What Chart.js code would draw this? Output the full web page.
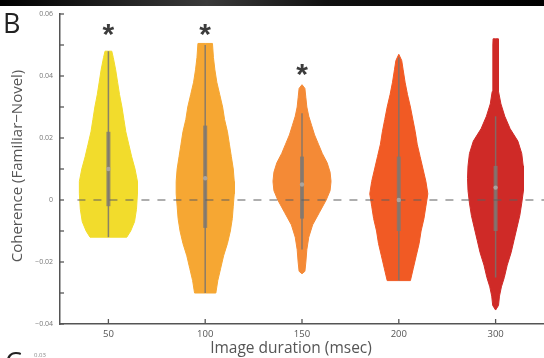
<!DOCTYPE html>
<html>
<head>
<meta charset="utf-8">
<script src="https://cdn.jsdelivr.net/npm/chart.js@4.4.1/dist/chart.umd.min.js"></script>
<style>
  body { margin: 0; background: #fff; overflow: hidden; }
  #wrap { width: 548px; height: 358px; position: relative; }
</style>
</head>
<body>
<div id="wrap"><canvas id="violins"></canvas></div>
<script>
// categories (image duration, msec)
const categories = ['50', '100', '150', '200', '300']
const colors = ['#f2dc2c', '#f6a733', '#f48a36', '#f15a24', '#cf2a27']

// violin outlines: y values and half widths (in category units)
const violinY = [
    [-0.012, -0.012, -0.010, -0.007, -0.003, 0.002, 0.006, 0.010, 0.014, 0.018, 0.022, 0.026, 0.030, 0.034, 0.038, 0.042, 0.046, 0.048, 0.048],
    [-0.030, -0.030, -0.026, -0.022, -0.018, -0.014, -0.010, -0.006, -0.002, 0.002, 0.006, 0.010, 0.014, 0.018, 0.022, 0.026, 0.030, 0.034, 0.038, 0.042, 0.046, 0.0505, 0.0505],
    [-0.0238, -0.023, -0.020, -0.016, -0.012, -0.008, -0.004, 0.000, 0.003, 0.006, 0.009, 0.012, 0.015, 0.018, 0.021, 0.024, 0.027, 0.030, 0.033, 0.036, 0.0372],
    [-0.026, -0.026, -0.022, -0.018, -0.014, -0.010, -0.006, -0.002, 0.002, 0.006, 0.010, 0.014, 0.018, 0.022, 0.026, 0.030, 0.034, 0.038, 0.042, 0.045, 0.047],
    [-0.0355, -0.034, -0.031, -0.028, -0.025, -0.021, -0.017, -0.013, -0.009, -0.005, -0.001, 0.003, 0.007, 0.011, 0.015, 0.019, 0.023, 0.027, 0.031, 0.035, 0.040, 0.045, 0.050, 0.052, 0.052]
]
const violinHalfWidth = [
    [0, 0.19, 0.23, 0.27, 0.29, 0.30, 0.30, 0.275, 0.24, 0.21, 0.18, 0.16, 0.14, 0.115, 0.095, 0.075, 0.05, 0.035, 0],
    [0, 0.11, 0.13, 0.16, 0.19, 0.23, 0.26, 0.28, 0.29, 0.30, 0.30, 0.29, 0.27, 0.25, 0.23, 0.20, 0.18, 0.15, 0.12, 0.10, 0.085, 0.075, 0],
    [0, 0.03, 0.04, 0.05, 0.07, 0.11, 0.18, 0.25, 0.29, 0.30, 0.29, 0.26, 0.21, 0.17, 0.13, 0.10, 0.07, 0.05, 0.04, 0.03, 0],
    [0, 0.12, 0.15, 0.18, 0.21, 0.23, 0.26, 0.28, 0.30, 0.28, 0.25, 0.22, 0.19, 0.17, 0.145, 0.12, 0.09, 0.065, 0.045, 0.03, 0],
    [0, 0.03, 0.04, 0.06, 0.09, 0.12, 0.16, 0.19, 0.22, 0.25, 0.27, 0.285, 0.29, 0.285, 0.27, 0.23, 0.15, 0.095, 0.055, 0.035, 0.03, 0.028, 0.027, 0.026, 0]
]

// inner box plot
const whiskerLow = [-0.012, -0.030, -0.016, -0.026, -0.025]
const whiskerHigh = [0.048, 0.050, 0.028, 0.046, 0.027]
const boxLow = [-0.002, -0.009, -0.006, -0.010, -0.010]
const boxHigh = [0.022, 0.024, 0.014, 0.014, 0.011]
const medians = [0.010, 0.007, 0.005, 0.000, 0.004]

// significance stars (category index, y)
const starIndex = [0, 1, 2]
const starY = [0.0548, 0.0548, 0.0420]

const yTicks = [-0.04, -0.03, -0.02, -0.01, 0, 0.01, 0.02, 0.03, 0.04, 0.05, 0.06]

const datasets = []
for (let i = 0; i < categories.length; i++) {
    let left = []
    let right = []
    for (let j = 0; j < violinY[i].length; j++) {
        left.push({x: i + 1 - violinHalfWidth[i][j], y: violinY[i][j]})
        right.unshift({x: i + 1 + violinHalfWidth[i][j], y: violinY[i][j]})
    }
    datasets.push({
        data: left.concat(right),
        showLine: true,
        fill: 'shape',
        backgroundColor: colors[i],
        borderColor: colors[i],
        borderWidth: 1,
        pointRadius: 0,
        tension: 0,
        order: 5
    })
    datasets.push({
        data: [{x: i + 1, y: whiskerLow[i]}, {x: i + 1, y: whiskerHigh[i]}],
        showLine: true,
        borderColor: 'rgba(120,115,110,0.85)',
        borderWidth: 1.5,
        pointRadius: 0,
        order: 4
    })
    datasets.push({
        data: [{x: i + 1, y: boxLow[i]}, {x: i + 1, y: boxHigh[i]}],
        showLine: true,
        borderColor: 'rgba(125,120,115,0.8)',
        borderWidth: 4,
        borderCapStyle: 'butt',
        pointRadius: 0,
        order: 3
    })
    datasets.push({
        data: [{x: i + 1, y: medians[i]}],
        pointRadius: 2.2,
        backgroundColor: 'rgba(175,170,165,0.9)',
        borderWidth: 0,
        order: 1
    })
}
// dashed zero line
datasets.push({
    data: [{x: 0.68, y: 0}, {x: 5.5, y: 0}],
    showLine: true,
    borderColor: '#5e5e5e',
    borderWidth: 1.2,
    borderDash: [8, 8],
    pointRadius: 0,
    order: 2
})

const decorations = {
    id: 'decorations',
    beforeDraw(chart) {
        const c = chart.ctx
        // strip of the panel above
        const g = c.createLinearGradient(0, 0, 544, 0)
        g.addColorStop(0, '#000')
        g.addColorStop(0.38, '#3a3a3a')
        g.addColorStop(0.6, '#111')
        g.addColorStop(1, '#000')
        c.fillStyle = g
        c.fillRect(0, 0, 548, 6)
    },
    afterDraw(chart) {
        const c = chart.ctx
        const xs = chart.scales.x
        const ys = chart.scales.y
        const area = chart.chartArea
        c.save()
        c.strokeStyle = '#555'
        c.lineWidth = 1.3
        // inward tick marks
        yTicks.forEach(v => {
            const py = ys.getPixelForValue(v)
            c.beginPath()
            c.moveTo(area.left, py)
            c.lineTo(area.left + 4, py)
            c.stroke()
        })
        categories.forEach((cat, i) => {
            const px = xs.getPixelForValue(i + 1)
            c.beginPath()
            c.moveTo(px, area.bottom)
            c.lineTo(px, area.bottom - 5)
            c.stroke()
        })
        // stars
        c.fillStyle = '#3c3c3c'
        c.font = 'bold 30px "Liberation Sans"'
        c.textAlign = 'center'
        c.textBaseline = 'alphabetic'
        starIndex.forEach((k, i) => {
            const m = c.measureText('*')
            const px = xs.getPixelForValue(k + 1)
            const py = ys.getPixelForValue(starY[i])
            c.fillText('*', px, py + (m.actualBoundingBoxAscent - m.actualBoundingBoxDescent) / 2)
        })
        // panel letters
        c.fillStyle = '#222'
        c.textAlign = 'left'
        c.font = '27px "Open Sans"'
        c.fillText('B', 3, 33)
        c.fillText('C', 5, 372)
        c.fillStyle = '#888'
        c.font = '6px "Open Sans"'
        c.fillText('0.03', 34, 357)
        // axis titles
        c.fillStyle = '#555'
        c.font = '15.5px "Open Sans"'
        c.textAlign = 'center'
        c.textBaseline = 'middle'
        c.fillText('Image duration (msec)', 291, 349)
        c.translate(18, 166)
        c.rotate(-Math.PI / 2)
        c.font = '15px "Open Sans"'
        c.fillText('Coherence (Familiar\u2212Novel)', 0, 0)
        c.restore()
    }
}

const ctx = document.getElementById('violins').getContext('2d')
const chart = new Chart(ctx, {
    type: 'scatter',
    data: { datasets: datasets },
    plugins: [decorations],
    options: {
        responsive: true,
        maintainAspectRatio: false,
        animation: false,
        layout: { padding: { top: 14, right: 0, left: 0, bottom: 0 } },
        plugins: { legend: { display: false }, tooltip: { enabled: false } },
        scales: {
            x: {
                type: 'linear',
                min: 0.5,
                max: 5.5,
                afterFit(s) { s.height = 34 },
                afterBuildTicks(s) { s.ticks = categories.map((c, i) => ({value: i + 1})) },
                grid: { display: false, drawTicks: false },
                border: { color: '#555', width: 1.5 },
                ticks: {
                    color: '#555',
                    font: { family: 'Open Sans', size: 9.5 },
                    padding: 5,
                    callback: (v) => categories[v - 1]
                }
            },
            y: {
                min: -0.04,
                max: 0.06,
                afterFit(s) { s.width = 60 },
                afterBuildTicks(s) { s.ticks = yTicks.map(v => ({value: v})) },
                grid: { display: false, drawTicks: false },
                border: { color: '#555', width: 1.5 },
                ticks: {
                    color: '#777',
                    font: { family: 'Open Sans', size: 7 },
                    padding: 7,
                    autoSkip: false,
                    callback: (v) => {
                        const k = Math.round(v * 100)
                        if (k % 2 !== 0) return ''
                        if (k === 0) return '0'
                        return (k < 0 ? '\u2212' : '') + (Math.abs(k) / 100).toFixed(2)
                    }
                }
            }
        }
    }
})
</script>
</body>
</html>
